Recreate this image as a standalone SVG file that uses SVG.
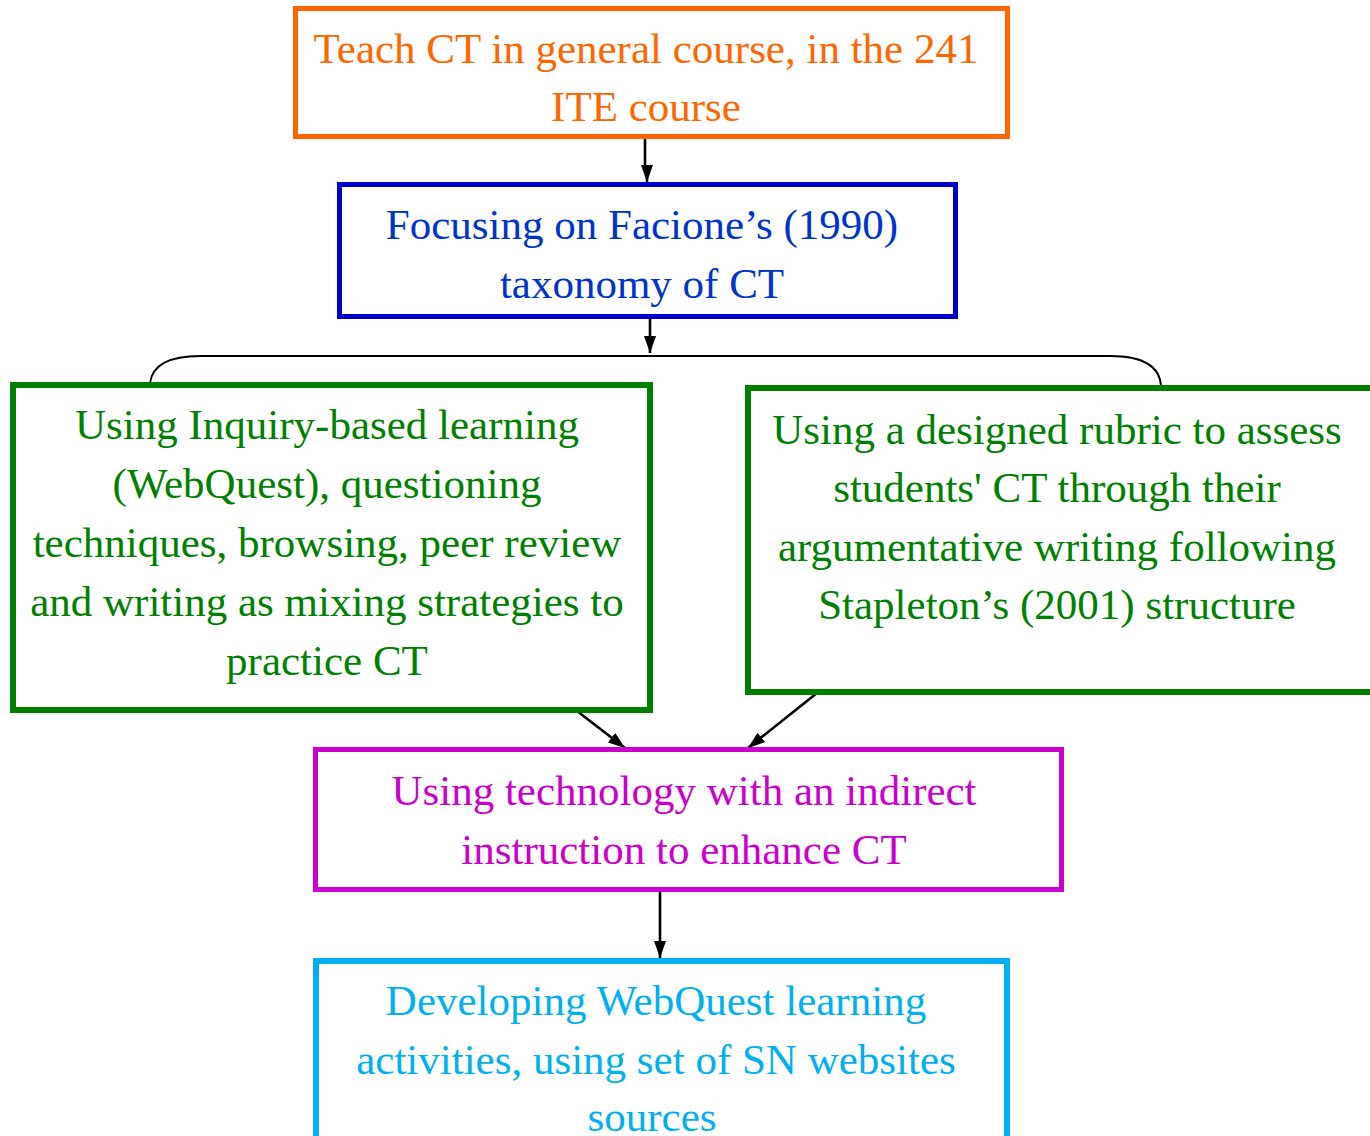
<svg xmlns="http://www.w3.org/2000/svg" width="1370" height="1136" viewBox="0 0 1370 1136">
<defs>
<marker id="ah" markerUnits="userSpaceOnUse" markerWidth="17" markerHeight="12" refX="17" refY="6" orient="auto">
<path d="M0,0 L17,6 L0,12 z" fill="#000"/>
</marker>
<style>
.box{fill:#fff}
.t{font-family:"Liberation Serif","Times New Roman",serif;font-size:43px;text-anchor:middle}
.c{fill:none;stroke:#000;stroke-width:2.6}
</style>
</defs>
<rect width="1370" height="1136" fill="#fff"/>
<g id="connectors">
<polyline class="c" points="645,139 645,166 647,169 647,182" marker-end="url(#ah)"/>
<line class="c" x1="650" y1="319" x2="650" y2="353" marker-end="url(#ah)"/>
<path d="M150,383 C152,368 165,356 200,356 L1110,356 C1145,356 1160,368 1161,386" fill="none" stroke="#000" stroke-width="1.8"/>
<line class="c" x1="577" y1="711" x2="625" y2="748" marker-end="url(#ah)"/>
<line class="c" x1="817" y1="693" x2="748" y2="748" marker-end="url(#ah)"/>
<line class="c" x1="660" y1="892" x2="660" y2="958" marker-end="url(#ah)"/>
</g>
<g id="n1">
<rect class="box" x="295.5" y="8.5" width="712" height="128" fill="#fff" stroke="#FF6600" stroke-width="5"/>
<text class="t" fill="#FF6600"><tspan x="646" y="63">Teach CT in general course, in the 241</tspan><tspan x="646" y="121">ITE course</tspan></text>
</g>
<g id="n2">
<rect class="box" x="339.5" y="184.5" width="616" height="132" fill="#fff" stroke="#0000CC" stroke-width="5"/>
<text class="t" fill="#0033CC"><tspan x="642" y="239">Focusing on Facione’s (1990)</tspan><tspan x="642" y="298">taxonomy of CT</tspan></text>
</g>
<g id="n3">
<rect class="box" x="13" y="385" width="637" height="325" fill="#fff" stroke="#008000" stroke-width="6"/>
<text class="t" fill="#008000"><tspan x="327" y="439">Using Inquiry-based learning</tspan><tspan x="327" y="498">(WebQuest), questioning</tspan><tspan x="327" y="557">techniques, browsing, peer review</tspan><tspan x="327" y="616">and writing as mixing strategies to</tspan><tspan x="327" y="675">practice CT</tspan></text>
</g>
<g id="n4">
<rect class="box" x="748" y="388" width="640" height="304" fill="#fff" stroke="#008000" stroke-width="6"/>
<text class="t" fill="#008000"><tspan x="1057" y="444">Using a designed rubric to assess</tspan><tspan x="1057" y="502">students' CT through their</tspan><tspan x="1057" y="561">argumentative writing following</tspan><tspan x="1057" y="619">Stapleton’s (2001) structure</tspan></text>
</g>
<g id="n5">
<rect class="box" x="315.5" y="749.5" width="746" height="140" fill="#fff" stroke="#CC00CC" stroke-width="5"/>
<text class="t" fill="#CC00CC"><tspan x="684" y="805">Using technology with an indirect</tspan><tspan x="684" y="864">instruction to enhance CT</tspan></text>
</g>
<g id="n6">
<rect class="box" x="316" y="961" width="691" height="200" fill="#fff" stroke="#00B0F0" stroke-width="6"/>
<text class="t" fill="#00B0F0"><tspan x="656" y="1015">Developing WebQuest learning</tspan><tspan x="656" y="1074">activities, using set of SN websites</tspan><tspan x="652" y="1131">sources</tspan></text>
</g>
</svg>
